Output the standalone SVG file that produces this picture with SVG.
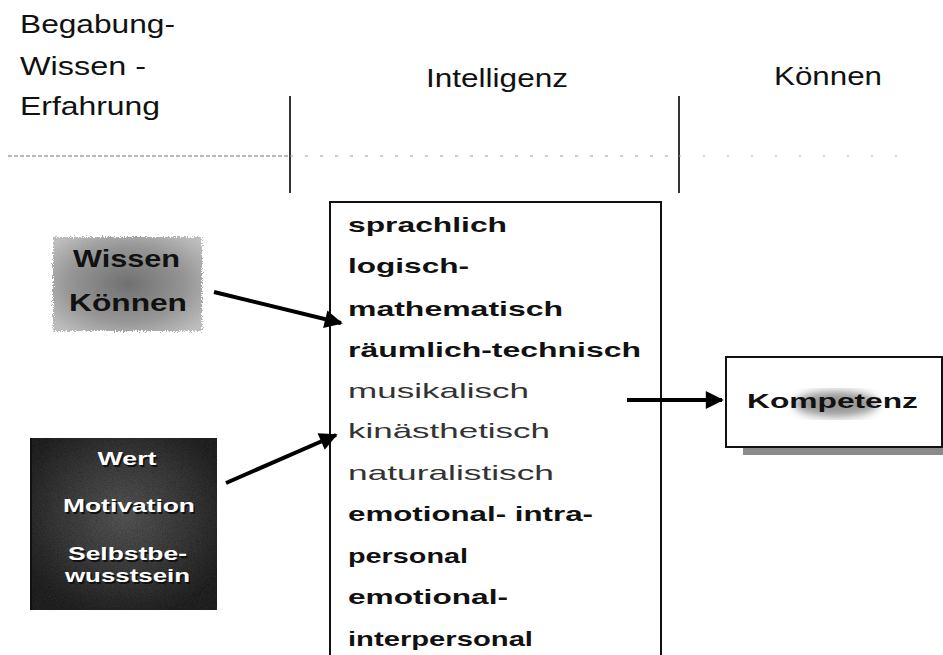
<svg xmlns="http://www.w3.org/2000/svg" width="943" height="655" viewBox="0 0 943 655">
  <defs>
    <style>
      .hdr { font-family: "Liberation Sans", Arial, sans-serif; font-size: 25px; fill: #111; }
      .item { font-family: "Liberation Sans", Arial, sans-serif; font-size: 21px; font-weight: bold; fill: #111; }
      .thin { font-weight: normal; fill: #333; }
      .wk { font-family: "Liberation Sans", Arial, sans-serif; font-size: 24px; font-weight: bold; fill: #111; }
      .wm { font-family: "Liberation Sans", Arial, sans-serif; font-size: 18px; font-weight: bold; fill: #fff; text-anchor: middle; }
      .wms { font-family: "Liberation Sans", Arial, sans-serif; font-size: 18px; font-weight: bold; fill: #111; text-anchor: middle; }
      .komp { font-family: "Liberation Sans", Arial, sans-serif; font-size: 21px; font-weight: bold; fill: #111; }
      .conn { stroke: #000; stroke-width: 4; fill: none; marker-end: url(#ah); }
    </style>
    <marker id="ah" viewBox="0 0 10 10" refX="9" refY="5" markerWidth="6" markerHeight="4.5" orient="auto" markerUnits="strokeWidth">
      <path d="M0,0 L10,5 L0,10 z" fill="#000"/>
    </marker>
    <radialGradient id="gW" cx="0.5" cy="0.5" r="0.65">
      <stop offset="0" stop-color="#707070"/>
      <stop offset="0.6" stop-color="#959595"/>
      <stop offset="1" stop-color="#bdbdbd"/>
    </radialGradient>
    <radialGradient id="gM" cx="0.5" cy="0.45" r="0.6">
      <stop offset="0" stop-color="#707070"/>
      <stop offset="0.6" stop-color="#4a4a4a"/>
      <stop offset="1" stop-color="#2e2e2e"/>
    </radialGradient>
    <filter id="fuzz" x="-10%" y="-10%" width="120%" height="120%">
      <feTurbulence type="fractalNoise" baseFrequency="0.9" numOctaves="2" seed="3" result="n"/>
      <feDisplacementMap in="SourceGraphic" in2="n" scale="6" xChannelSelector="R" yChannelSelector="G"/>
    </filter>
    <filter id="grain" x="0" y="0" width="100%" height="100%">
      <feTurbulence type="fractalNoise" baseFrequency="1.2" numOctaves="1" seed="7" result="n"/>
      <feColorMatrix in="n" type="matrix" values="0.33 0.33 0.33 0 0  0.33 0.33 0.33 0 0  0.33 0.33 0.33 0 0  0 0 0 0 1" result="g"/>
      <feBlend in="SourceGraphic" in2="g" mode="multiply" result="b"/>
      <feComposite in="b" in2="SourceGraphic" operator="in"/>
    </filter>
    <filter id="blur4"><feGaussianBlur stdDeviation="4"/></filter>
  </defs>
  <rect width="943" height="655" fill="#fff"/>

  <g id="header">
    <text class="hdr" x="20" y="33" textLength="155" lengthAdjust="spacingAndGlyphs">Begabung-</text>
    <text class="hdr" x="20" y="75" textLength="126" lengthAdjust="spacingAndGlyphs">Wissen -</text>
    <text class="hdr" x="20" y="115" textLength="140" lengthAdjust="spacingAndGlyphs">Erfahrung</text>
    <text class="hdr" x="426" y="87" textLength="142" lengthAdjust="spacingAndGlyphs">Intelligenz</text>
    <text class="hdr" x="774" y="85" textLength="108" lengthAdjust="spacingAndGlyphs">Können</text>
    <line x1="290" y1="96" x2="290" y2="193" stroke="#333" stroke-width="2"/>
    <line x1="679" y1="96" x2="679" y2="193" stroke="#333" stroke-width="2"/>
    <line x1="8" y1="156" x2="290" y2="156" stroke="#777" stroke-width="1.2" stroke-dasharray="4 2"/>
    <line x1="290" y1="156" x2="679" y2="156" stroke="#999" stroke-width="1.2" stroke-dasharray="3 12"/>
    <line x1="679" y1="156" x2="905" y2="156" stroke="#aaa" stroke-width="1.2" stroke-dasharray="2 22"/>
  </g>

  <g id="wissen">
    <rect x="53" y="237" width="149" height="94" fill="url(#gW)" filter="url(#fuzz)"/>
    <text class="wk" x="73" y="267" textLength="107" lengthAdjust="spacingAndGlyphs">Wissen</text>
    <text class="wk" x="69" y="311" textLength="118" lengthAdjust="spacingAndGlyphs">Können</text>
  </g>

  <g id="motivation">
    <rect x="30" y="438" width="187" height="172" fill="url(#gM)" filter="url(#grain)"/>
    <line x1="31" y1="438" x2="31" y2="610" stroke="#111" stroke-width="2"/>
    <text class="wms" x="128.5" y="466.5" textLength="59" lengthAdjust="spacingAndGlyphs">Wert</text>
    <text class="wm" x="127" y="465" textLength="59" lengthAdjust="spacingAndGlyphs">Wert</text>
    <text class="wms" x="130.5" y="513.5" textLength="132" lengthAdjust="spacingAndGlyphs">Motivation</text>
    <text class="wm" x="129" y="512" textLength="132" lengthAdjust="spacingAndGlyphs">Motivation</text>
    <text class="wms" x="129" y="561.5" textLength="119" lengthAdjust="spacingAndGlyphs">Selbstbe-</text>
    <text class="wm" x="127.5" y="560" textLength="119" lengthAdjust="spacingAndGlyphs">Selbstbe-</text>
    <text class="wms" x="129" y="583.5" textLength="125" lengthAdjust="spacingAndGlyphs">wusstsein</text>
    <text class="wm" x="127.5" y="582" textLength="125" lengthAdjust="spacingAndGlyphs">wusstsein</text>
  </g>

  <g id="intelligenz">
    <rect x="330" y="202" width="331" height="460" fill="#fff" stroke="#111" stroke-width="2"/>
    <text class="item" x="348" y="232" textLength="159" lengthAdjust="spacingAndGlyphs">sprachlich</text>
    <text class="item" x="348" y="273" textLength="121" lengthAdjust="spacingAndGlyphs">logisch-</text>
    <text class="item" x="348" y="316" textLength="215" lengthAdjust="spacingAndGlyphs">mathematisch</text>
    <text class="item" x="348" y="357" textLength="293" lengthAdjust="spacingAndGlyphs">räumlich-technisch</text>
    <text class="item thin" x="348" y="398" textLength="181" lengthAdjust="spacingAndGlyphs">musikalisch</text>
    <text class="item thin" x="348" y="438" textLength="202" lengthAdjust="spacingAndGlyphs">kinästhetisch</text>
    <text class="item thin" x="348" y="480" textLength="206" lengthAdjust="spacingAndGlyphs">naturalistisch</text>
    <text class="item" x="348" y="521" textLength="245" lengthAdjust="spacingAndGlyphs">emotional- intra-</text>
    <text class="item" x="348" y="563" textLength="120" lengthAdjust="spacingAndGlyphs">personal</text>
    <text class="item" x="348" y="604" textLength="160" lengthAdjust="spacingAndGlyphs">emotional-</text>
    <text class="item" x="348" y="646" textLength="185" lengthAdjust="spacingAndGlyphs">interpersonal</text>
  </g>

  <g id="kompetenz">
    <rect x="743" y="446" width="200" height="9" fill="#8a8a8a"/>
    <rect x="726" y="357" width="216" height="90" fill="#fff" stroke="#111" stroke-width="2"/>
    <ellipse cx="836" cy="404" rx="42" ry="13" fill="#999" filter="url(#blur4)"/>
    <text class="komp" x="747" y="408" textLength="171" lengthAdjust="spacingAndGlyphs">Kompetenz</text>
  </g>

  <g id="connectors">
    <line class="conn" x1="214" y1="292" x2="341" y2="323"/>
    <line class="conn" x1="226" y1="483" x2="336" y2="435"/>
    <line class="conn" x1="627" y1="400" x2="722" y2="400"/>
  </g>
</svg>
